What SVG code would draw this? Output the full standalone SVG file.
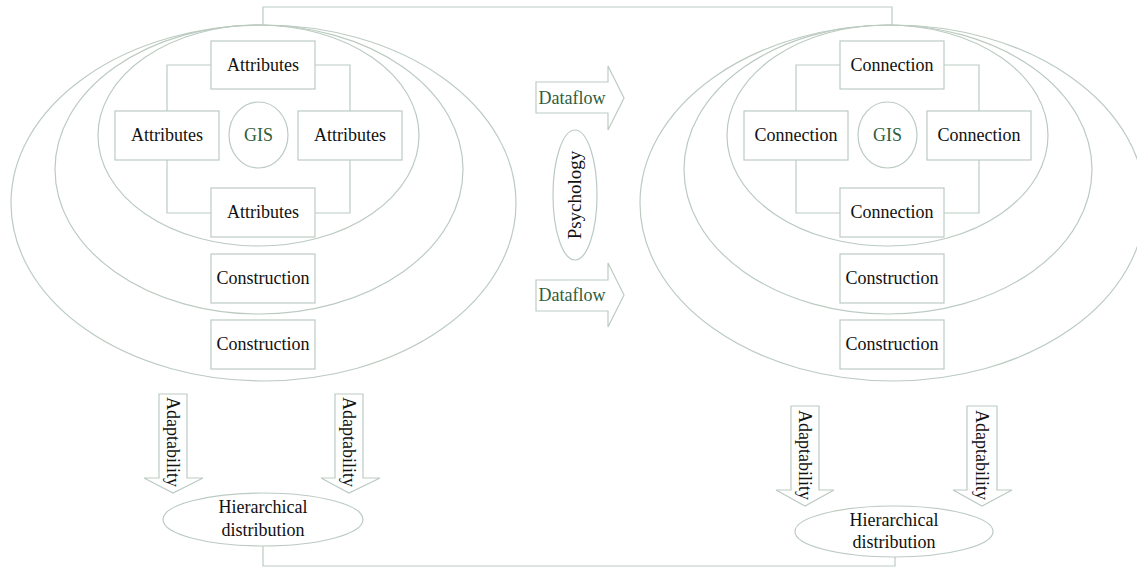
<svg xmlns="http://www.w3.org/2000/svg" width="1137" height="568" viewBox="0 0 1137 568">
<style>
.ln{fill:none;stroke:#bccbc1;stroke-width:1.2}
.bx{fill:#fff;stroke:#bccbc1;stroke-width:1.2}
.t{font-family:"Liberation Serif","Times New Roman",serif;font-size:18px;fill:#111;text-anchor:middle}
.g{fill:#2f5e3c}
</style>
<rect width="1137" height="568" fill="#fff"/>
<g id="connectors">
<path class="ln" d="M263,25 V7 H892 V25"/>
<path class="ln" d="M263,546 V566 H895 V557"/>
<path class="ln" d="M211,65 H167 V111 M167,160 V213 H211 M315,65 H350 V111 M350,160 V213 H315"/>
<path class="ln" d="M840,65 H796 V111 M796,160 V213 H840 M944,65 H979 V111 M979,160 V213 H944"/>
</g>
<g id="left-rings">
<ellipse class="ln" cx="263.5" cy="203" rx="252.5" ry="178"/>
<ellipse class="ln" cx="259" cy="169.5" rx="204" ry="144.5"/>
<ellipse class="ln" cx="258.5" cy="135.5" rx="160.5" ry="110.5"/>
</g>
<g id="right-rings">
<ellipse class="ln" cx="892.5" cy="203" rx="252.5" ry="178"/>
<ellipse class="ln" cx="888" cy="169.5" rx="204" ry="144.5"/>
<ellipse class="ln" cx="887.5" cy="135.5" rx="160.5" ry="110.5"/>
</g>
<g id="l-attr-top"><rect class="bx" x="211" y="41" width="104" height="48"/><text class="t" x="263" y="71">Attributes</text></g>
<g id="l-attr-left"><rect class="bx" x="115" y="111" width="104" height="49"/><text class="t" x="167" y="141">Attributes</text></g>
<g id="l-attr-right"><rect class="bx" x="298" y="111" width="104" height="49"/><text class="t" x="350" y="141">Attributes</text></g>
<g id="l-attr-bottom"><rect class="bx" x="211" y="188" width="104" height="49"/><text class="t" x="263" y="218">Attributes</text></g>
<g id="l-gis"><ellipse class="bx" cx="258.5" cy="135" rx="29.5" ry="33"/><text class="t g" x="258.5" y="141">GIS</text></g>
<g id="l-cons1"><rect class="bx" x="211" y="254" width="104" height="49"/><text class="t" x="263" y="284">Construction</text></g>
<g id="l-cons2"><rect class="bx" x="211" y="320" width="104" height="49"/><text class="t" x="263" y="350">Construction</text></g>
<g id="r-conn-top"><rect class="bx" x="840" y="41" width="104" height="48"/><text class="t" x="892" y="71">Connection</text></g>
<g id="r-conn-left"><rect class="bx" x="744" y="111" width="104" height="49"/><text class="t" x="796" y="141">Connection</text></g>
<g id="r-conn-right"><rect class="bx" x="927" y="111" width="104" height="49"/><text class="t" x="979" y="141">Connection</text></g>
<g id="r-conn-bottom"><rect class="bx" x="840" y="188" width="104" height="49"/><text class="t" x="892" y="218">Connection</text></g>
<g id="r-gis"><ellipse class="bx" cx="887.5" cy="135" rx="29.5" ry="33"/><text class="t g" x="887.5" y="141">GIS</text></g>
<g id="r-cons1"><rect class="bx" x="840" y="254" width="104" height="49"/><text class="t" x="892" y="284">Construction</text></g>
<g id="r-cons2"><rect class="bx" x="840" y="320" width="104" height="49"/><text class="t" x="892" y="350">Construction</text></g>
<g id="dataflow-top"><polygon class="bx" points="536,82 608,82 608,66 624,98 608,130 608,113 536,113"/><text class="t g" x="572" y="104">Dataflow</text></g>
<g id="dataflow-bottom"><polygon class="bx" points="536,280 608,280 608,263 624,295 608,327 608,311 536,311"/><text class="t g" x="572" y="301">Dataflow</text></g>
<g id="psychology"><ellipse class="bx" cx="575" cy="195" rx="22" ry="65"/><text class="t" style="font-size:19px" transform="translate(575,195) rotate(-90)" y="6">Psychology</text></g>
<g id="l-adapt1"><polygon class="bx" points="159,394 187,394 187,478 203,478 173,493 144,478 159,478"/><text class="t" transform="translate(173,442) rotate(90)" y="6">Adaptability</text></g>
<g id="l-adapt2"><polygon class="bx" points="335,394 363,394 363,478 380,478 349,493 321,478 335,478"/><text class="t" transform="translate(349,442) rotate(90)" y="6">Adaptability</text></g>
<g id="l-hier"><ellipse class="bx" cx="263" cy="519.5" rx="100" ry="26.5"/><text class="t" x="263" y="513">Hierarchical</text><text class="t" x="263" y="536">distribution</text></g>
<g id="r-adapt1"><polygon class="bx" points="791,406 819,406 819,490 834,490 805,506 776,490 791,490"/><text class="t" transform="translate(805,455) rotate(90)" y="6">Adaptability</text></g>
<g id="r-adapt2"><polygon class="bx" points="967,406 997,406 997,490 1012,490 982,506 953,490 967,490"/><text class="t" transform="translate(982,455) rotate(90)" y="6">Adaptability</text></g>
<g id="r-hier"><ellipse class="bx" cx="894" cy="531.5" rx="99" ry="25.5"/><text class="t" x="894" y="526">Hierarchical</text><text class="t" x="894" y="548">distribution</text></g>
</svg>
